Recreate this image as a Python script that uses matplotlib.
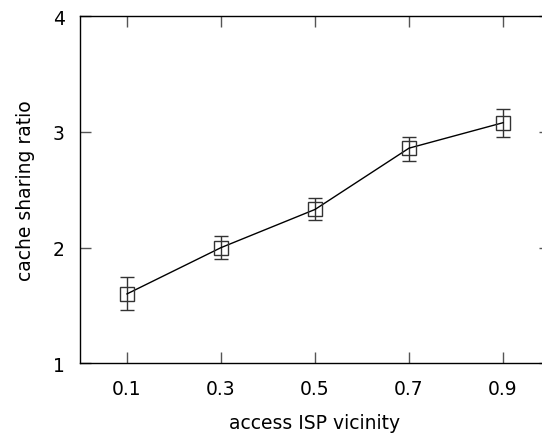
import matplotlib.pyplot as plt

vicinity = [0.1, 0.3, 0.5, 0.7, 0.9]
ratio = [1.60, 2.00, 2.33, 2.86, 3.08]
err_low = [0.14, 0.10, 0.09, 0.11, 0.12]
err_high = [0.15, 0.10, 0.10, 0.10, 0.12]

plt.rcParams['font.family'] = 'DejaVu Sans'
plt.rcParams['font.size'] = 13.5

fig = plt.figure(figsize=(5.42, 4.35), dpi=100)
# axes box runs past the right edge of the picture, like the original
ax = fig.add_axes([80 / 542, 1 - 364.3 / 435, 470 / 542, 347 / 435])

ax.errorbar(vicinity, ratio, yerr=[err_low, err_high], fmt='none',
            ecolor='#333333', elinewidth=1, capsize=5, capthick=1)
ax.plot(vicinity, ratio, color='black', linewidth=1, marker='s',
        markersize=10, markerfacecolor='none', markeredgecolor='#333333',
        markeredgewidth=1)

ax.set_xlim(0, 1)
ax.set_ylim(1, 4)
ax.set_xticks(vicinity)
ax.set_xticklabels(['0.1', '0.3', '0.5', '0.7', '0.9'])
ax.set_yticks([1, 2, 3, 4])
ax.tick_params(direction='in', length=8, width=1, color='#555555',
               top=True, right=True)
ax.tick_params(axis='x', pad=11)
ax.tick_params(axis='y', pad=11)
for s in ax.spines.values():
    s.set_linewidth(1)

ax.set_xlabel('access ISP vicinity', labelpad=11)
ax.set_ylabel('cache sharing ratio', labelpad=13)

fig.savefig('out.png', dpi=100)
